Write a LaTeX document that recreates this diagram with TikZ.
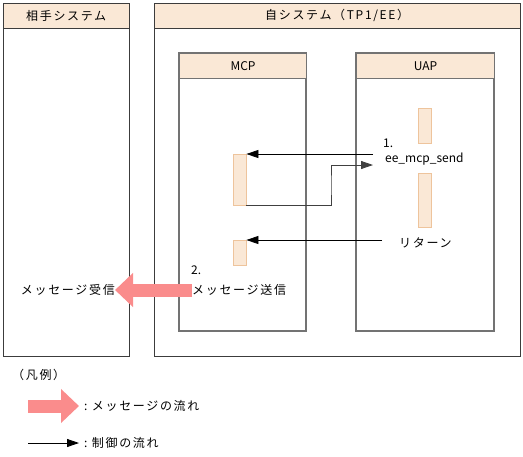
\documentclass[tikz,border=0pt]{standalone}
\usepackage{fontspec}
\setmainfont{Noto Sans CJK JP}
\newfontfamily\jp[LetterSpace=14]{Noto Sans CJK JP}
\usetikzlibrary{positioning,arrows.meta}
\definecolor{peach}{RGB}{250,232,214}
\definecolor{bar}{RGB}{238,196,156}
\definecolor{salmon}{RGB}{250,140,140}
\definecolor{frame}{RGB}{60,60,60}
\definecolor{inner}{RGB}{115,115,115}

\begin{document}
\begin{tikzpicture}[x=1pt,y=-1pt,font=\fontsize{12}{14}\selectfont,
  hd/.style={draw=frame,fill=peach,anchor=north west,minimum height=25pt,inner sep=0pt},
  act/.style={draw=bar,fill=peach,anchor=north west,minimum width=13pt,inner sep=0pt},
  ar/.style={-{Triangle[length=12pt,width=8pt]},line width=0.8pt},
  big/.style={-{Triangle[length=18pt,width=33pt]},salmon,line width=13pt},
  lbl/.style={inner sep=0pt,anchor=west}]
  \useasboundingbox (0,0) rectangle (523,456);
  % outer systems
  \draw[frame,line width=0.8pt] (3,3) rectangle (129,356);
  \node[hd,minimum width=126pt](peer) at (3,3){\jp 相手システム};
  \draw[frame,line width=0.8pt] (154,3) rectangle (520,356);
  \node[hd,minimum width=366pt](own) at (154,3){\jp 自システム（TP1/EE）};
  % MCP / UAP
  \draw[inner,line width=1.1pt] (179,53) rectangle (306,331);
  \node[hd,draw=inner,line width=1.1pt,minimum width=127pt](mcp) at (179,53){MCP};
  \draw[inner,line width=1.1pt] (356,53) rectangle (494,331);
  \node[hd,draw=inner,line width=1.1pt,minimum width=138pt](uap) at (356,53){UAP};
  % activations
  \node[act,minimum height=35pt](u1) at (418,108){};
  \node[act,minimum height=54pt](u2) at (418,173){};
  \node[act,minimum height=51pt](m1) at (233,154){};
  \node[act,minimum height=25pt](m2) at (233,240){};
  % labels
  \node[lbl](n1) at (383,143){1.};
  \node[lbl](send) at (385,159){ee\_mcp\_send};
  \node[lbl](ret) at (399,243){\jp リターン};
  \node[lbl](n2) at (191,270){2.};
  \node[lbl](sendmsg) at (192,290){\jp メッセージ送信};
  \node[lbl,anchor=east](recvmsg) at (115,290){\jp メッセージ受信};
  \coordinate (c1) at (373,154);
  \coordinate (c2) at (373,165);
  \coordinate (c3) at (382,240);
  % control flow
  \draw[ar](c1)--(m1.north east);
  \draw[ar,draw=black!75](m1.south east)-|(331,185)|-(c2);
  \draw[ar](c3)--(m2.north east);
  % message flow
  \draw[big](sendmsg.west)--(recvmsg.east);
  % legend
  \node[lbl](leg) at (12,375){\jp （凡例）};
  \coordinate (l1) at (28,406);
  \node[lbl](lmsg) at (84,406){\jp :\ メッセージの流れ};
  \draw[big,shorten >=5pt](l1)--(lmsg.west);
  \coordinate (l2) at (28,443);
  \node[lbl](lctl) at (84,443){\jp :\ 制御の流れ};
  \draw[ar,shorten >=5pt](l2)--(lctl.west);
\end{tikzpicture}
\end{document}
